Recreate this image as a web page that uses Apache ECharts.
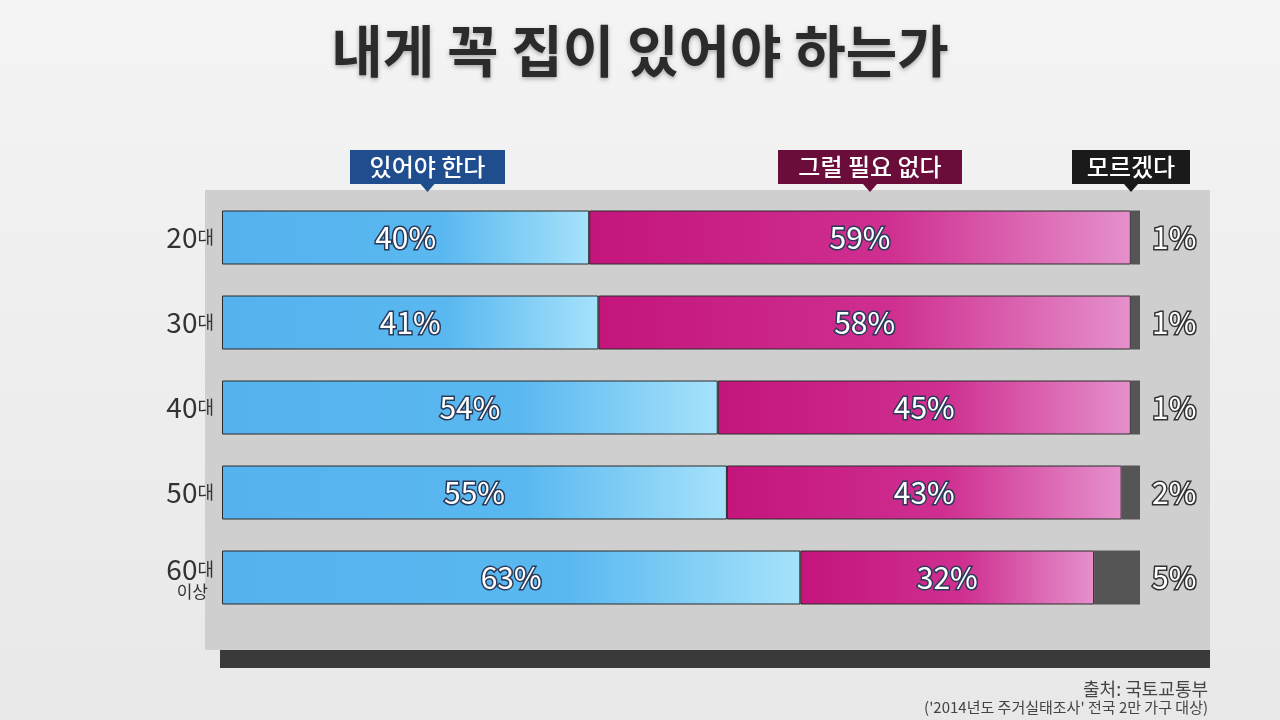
<!DOCTYPE html>
<html><head><meta charset="utf-8">
<script src="https://cdn.jsdelivr.net/npm/echarts@6/dist/echarts.min.js"></script>
<style>html,body{margin:0;padding:0;}#c{width:1280px;height:720px;}</style>
</head><body><div id="c"></div>
<script>
const categories = ['20대','30대','40대','50대','60대 이상'];
const yes = [40,41,54,55,63];
const no = [59,58,45,43,32];
const unsure = [1,1,1,2,5];
const chart = echarts.init(document.getElementById('c'));
const font = '"Noto Sans CJK KR", sans-serif';
const lbl = {show:true,position:'inside',formatter:p=>p.value+'%',fontFamily:font,fontSize:30,color:'#fff',textBorderColor:'#2a3a5a',textBorderWidth:3};
function box(x,y,w,text,bg){
  return {type:'group',left:x,top:y,children:[
    {type:'rect',shape:{x:0,y:0,width:w,height:34},style:{fill:bg}},
    {type:'polygon',shape:{points:[[w/2-7,34],[w/2+7,34],[w/2,42]]},style:{fill:bg}},
    {type:'text',style:{x:w/2,y:17,text:text,fill:'#fff',font:'500 24px '+font,align:'center',verticalAlign:'middle'}}
  ]};
}
chart.setOption({
  backgroundColor:{type:'linear',x:0,y:0,x2:0,y2:1,colorStops:[{offset:0,color:'#f4f4f4'},{offset:1,color:'#e8e8e8'}]},
  title:{text:'내게 꼭 집이 있어야 하는가',left:'center',top:18,textStyle:{fontFamily:font,fontSize:56,fontWeight:'bold',color:'#2b2b2b',textShadowColor:'rgba(0,0,0,0.3)',textShadowBlur:4,textShadowOffsetY:2}},
  grid:{left:222,right:140,top:195,bottom:100},
  xAxis:{type:'value',min:0,max:100,show:false},
  yAxis:{type:'category',data:categories,inverse:true,axisLine:{show:false},axisTick:{show:false},
    axisLabel:{margin:8,formatter:v=>{const m=v.match(/^(\d+)(대)(?: (.*))?$/);return '{n|'+m[1]+'}{d|'+m[2]+'}'+(m[3]?'\n{s|'+m[3]+'}':'');},
      rich:{n:{fontFamily:font,fontSize:28,color:'#333'},d:{fontFamily:font,fontSize:18,color:'#333'},s:{fontFamily:font,fontSize:17,color:'#333',align:'right',padding:[0,6,0,0]}}}},
  graphic:[
    {type:'rect',left:205,top:190,shape:{width:1005,height:460},style:{fill:'#cfcfcf'},z:-10},
    {type:'rect',left:220,top:650,shape:{width:990,height:18},style:{fill:'#3a3a3a'},z:-10},
    box(350,150,155,'있어야 한다','#1f4d8e'),
    box(778,150,184,'그럴 필요 없다','#6a0d3a'),
    box(1072,150,118,'모르겠다','#1a1a1a'),
    {type:'text',right:72,top:680,style:{text:'출처: 국토교통부',fill:'#444',font:'18px '+font}},
    {type:'text',right:72,top:700,style:{text:"('2014년도 주거실태조사' 전국 2만 가구 대상)",fill:'#444',font:'15px '+font}}
  ],
  series:[
    {type:'bar',stack:'a',data:yes,barWidth:54,label:lbl,
      itemStyle:{color:{type:'linear',x:0,y:0,x2:1,y2:0,colorStops:[{offset:0,color:'#55b2ee'},{offset:0.6,color:'#5ab8f0'},{offset:1,color:'#a6e2fb'}]},borderColor:'#2a2a2a',borderWidth:1}},
    {type:'bar',stack:'a',data:no,label:lbl,
      itemStyle:{color:{type:'linear',x:0,y:0,x2:1,y2:0,colorStops:[{offset:0,color:'#c4157d'},{offset:0.55,color:'#cf2f90'},{offset:1,color:'#e590cc'}]},borderColor:'#2a2a2a',borderWidth:1}},
    {type:'bar',stack:'a',data:unsure,itemStyle:{color:'#555'},
      label:{show:true,position:'right',distance:12,formatter:p=>p.value+'%',fontFamily:font,fontSize:30,color:'#fff',textBorderColor:'#333',textBorderWidth:3}}
  ]
});
</script></body></html>
